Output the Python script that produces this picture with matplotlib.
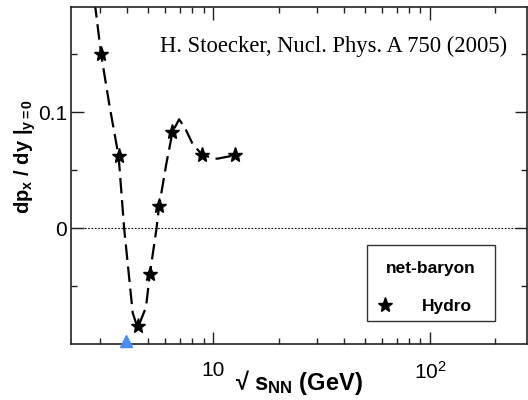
#!/usr/bin/env python

import matplotlib
matplotlib.use("Agg")
import matplotlib.pyplot as plt
from matplotlib.offsetbox import DrawingArea, VPacker
from matplotlib.ticker import FixedLocator, FuncFormatter, MultipleLocator, NullFormatter

# hydro points (net-baryon)
hydro_x = [3.03, 3.65, 4.47, 5.09, 5.61, 6.47, 8.89, 12.56]
hydro_y = [0.150, 0.062, -0.084, -0.039, 0.019, 0.083, 0.063, 0.063]

# dashed curve through the points
curve_x = [2.83, 3.03, 3.31, 3.65, 3.87, 4.24, 4.47, 4.88, 5.09, 5.46, 5.61,
           6.05, 6.47, 6.94, 7.39, 8.0, 8.89, 10.4, 12.56]
curve_y = [0.195, 0.150, 0.106, 0.062, 0.0, -0.073, -0.086, -0.068, -0.039, 0.0, 0.019,
           0.055, 0.083, 0.094, 0.0865, 0.073, 0.063, 0.060, 0.063]

# blue marker on the axis (softest point)
soft_x = [3.93]
soft_y = [-0.0967]

plt.rcParams["font.family"] = ["Liberation Sans", "DejaVu Sans"]
plt.rcParams["mathtext.fontset"] = "custom"
plt.rcParams["mathtext.rm"] = "Liberation Sans"
plt.rcParams["mathtext.bf"] = "Liberation Sans:bold"
plt.rcParams["mathtext.it"] = "Liberation Sans:italic"

fig = plt.figure(figsize=(5.28, 4.0), dpi=100)
ax = fig.add_axes([0.1345, 0.14, 0.8635, 0.8425])

ax.axhline(0, color="black", linestyle=(0, (1.5, 1.5)), linewidth=0.8, zorder=1)
ax.plot(curve_x, curve_y, color="black", linewidth=1.6, dashes=(7, 3), zorder=2)
ax.plot(hydro_x, hydro_y, linestyle="none", marker="*", markersize=11,
        color="black", label="Hydro", zorder=3)
ax.plot(soft_x, soft_y, linestyle="none", marker="^", markersize=8,
        color="#4a8df6", clip_on=False, zorder=4)

ax.set_xscale("log")
ax.set_xlim(2.2, 280)
ax.set_ylim(-0.0997, 0.1908)

ax.xaxis.set_major_locator(FixedLocator([10, 100]))
ax.xaxis.set_major_formatter(FuncFormatter(lambda v, p: "10" if v == 10 else r"$10^2$"))
ax.xaxis.set_minor_locator(FixedLocator([3, 4, 5, 6, 7, 8, 9, 20, 30, 40, 50, 60, 70, 80, 90, 200]))
ax.xaxis.set_minor_formatter(NullFormatter())
ax.yaxis.set_major_locator(FixedLocator([0, 0.1]))
ax.yaxis.set_major_formatter(FuncFormatter(lambda v, p: "0" if v == 0 else "0.1"))
ax.yaxis.set_minor_locator(MultipleLocator(0.05))

ax.tick_params(which="both", direction="in", top=True, right=True, width=1, colors="#222222",
               labelcolor="black")
ax.tick_params(which="major", length=9, labelsize=15)
ax.tick_params(axis="x", which="major", pad=12)
ax.tick_params(axis="y", which="major", pad=3)
ax.tick_params(which="minor", length=4.5)
for s in ax.spines.values():
    s.set_linewidth(1.2)
    s.set_color("#222222")

ax.set_xlabel("√ $\\mathbf{s_{NN}}$ (GeV)", fontsize=17, fontweight="bold")
ax.xaxis.set_label_coords(0.5, -0.072)
ax.set_ylabel(r"$\mathbf{dp_x\ /\ dy\ |_{y=0}}$", fontsize=14.5)
ax.yaxis.set_label_coords(-0.072, 0.555)

ax.text(0.956, 0.865, "H. Stoecker, Nucl. Phys. A 750 (2005)", transform=ax.transAxes,
        ha="right", va="baseline", fontsize=16.3, family="Liberation Serif")

leg = ax.legend(loc="upper left", bbox_to_anchor=(0.649, 0.095, 0.282, 0.2),
                mode="expand", borderaxespad=0, title="net-baryon",
                frameon=True, fancybox=False, edgecolor="black", handlelength=1.34,
                handletextpad=1.44, borderpad=0.385, labelspacing=0.5,
                prop={"weight": "bold", "size": 12.5},
                title_fontproperties={"weight": "bold", "size": 12.5})
leg.get_frame().set_linewidth(1.0)
# extra room above the title, as in the original box
leg._legend_box._children[0] = VPacker(children=[DrawingArea(1, 7.2), leg._legend_title_box],
                                       pad=0, sep=0, align="center")
leg._legend_box.sep = 16.6

plt.savefig("out.png", dpi=100)
